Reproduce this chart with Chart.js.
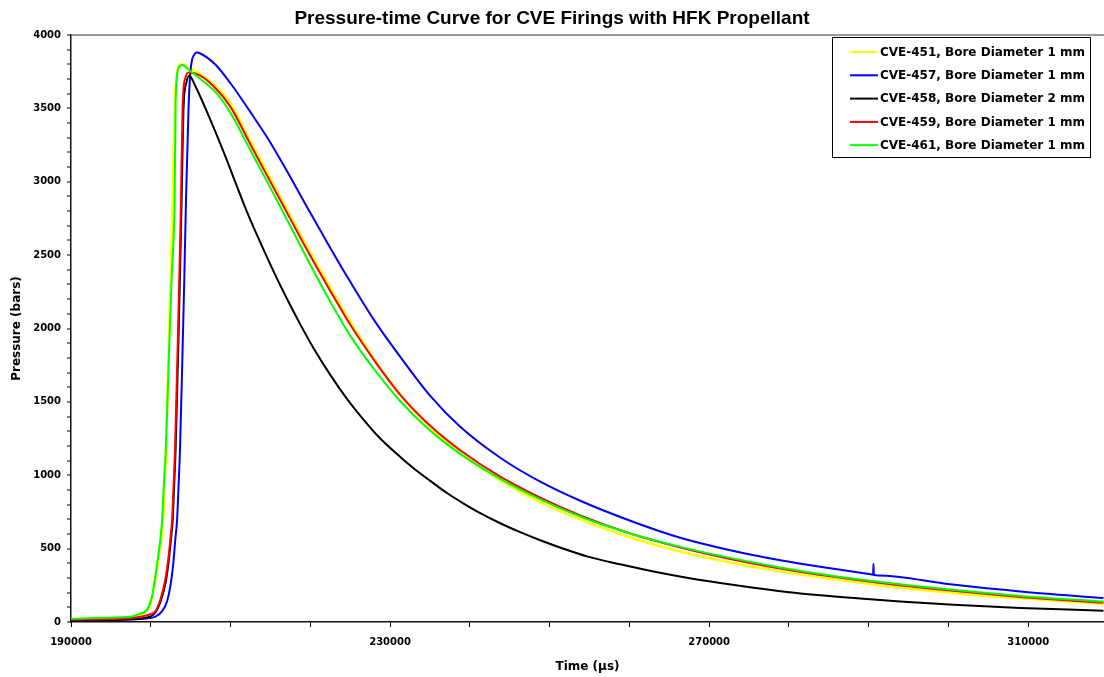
<!DOCTYPE html>
<html>
<head>
<meta charset="utf-8">
<script src="https://cdn.jsdelivr.net/npm/chart.js@4.4.1/dist/chart.umd.min.js"></script>
<style>
html,body{margin:0;padding:0;background:#fff;}
#wrap{width:1104px;height:677px;position:relative;}
</style>
</head>
<body>
<div id="wrap"><canvas id="c" width="1104" height="677"></canvas></div>
<script>
// ---- data ----
const seriesNames = [
  "CVE-451, Bore Diameter 1 mm",
  "CVE-457, Bore Diameter 1 mm",
  "CVE-458, Bore Diameter 2 mm",
  "CVE-459, Bore Diameter 1 mm",
  "CVE-461, Bore Diameter 1 mm"
];
const seriesColors = ["#FFFF00", "#0000FF", "#000000", "#FF0000", "#00FF00"];

// CVE-451 (time in µs, pressure in bars)
const t451 = [190000,193673,197434,198687,199314,199940,200354,200780,201106,201319,201545,201733,201908,202234,202497,202736,202986,203287,203513,203701,204954,206208,208088,209969,212476,214983,217490,219998,222504,225011,228144,231278,235035,238796,243810,248824,253838,260106,266374,272641,278909,285176,291443,300218,309030,319434];
const p451 = [16,22,29,46,70,118,220,356,492,560,697,935,1174,1855,2365,2876,3512,3728,3789,3803,3772,3734,3653,3534,3278,3023,2767,2515,2277,2045,1780,1548,1326,1153,966,816,699,576,481,406,345,294,249,200,161,125];

// CVE-457
const t457 = [190000,196180,199940,200567,201407,202034,202447,202786,203074,203300,203488,203663,203989,204215,204415,204741,204954,205167,205393,205706,206208,208088,209969,212476,214983,217490,219998,222504,225011,228144,231278,235035,238796,243810,248824,253838,260106,266374,272641,278909,285176,290000,290560,290600,290640,291200,300218,309030,319434];
const p457 = [9,16,27,36,72,140,242,379,560,697,935,1174,1855,2365,2876,3512,3739,3830,3861,3880,3874,3799,3673,3476,3268,3033,2788,2549,2318,2045,1807,1541,1330,1119,956,826,690,574,489,421,366,327,322,397,322,317,257,208,163];

// CVE-458
const t458 = [190000,196180,199314,200567,201256,201883,202297,202522,202748,202936,203112,203438,203663,203864,204114,204453,204829,205581,207048,209129,211222,212062,213479,214983,216237,217490,218744,220411,222504,224597,226640,228771,231278,232945,235035,237129,239172,241303,243810,246317,248824,251745,254678,258852,263027,267214,271388,275562,279749,283923,288937,293950,300631,309030,319434];
const p458 = [9,16,29,63,145,274,438,560,697,935,1174,1855,2365,2876,3512,3673,3723,3653,3476,3203,2910,2795,2617,2437,2294,2158,2028,1865,1684,1521,1381,1250,1125,1048,962,879,809,742,673,612,557,499,447,393,344,302,266,234,205,182,160,140,118,95,77];

// CVE-459
const t459 = [190000,196180,198687,199940,200567,201194,201821,202234,202447,202673,202861,203036,203362,203588,203789,203989,204328,204791,206208,208088,209969,212476,214983,217490,219998,222504,225011,228144,231278,235035,238796,243810,248824,253838,260106,266374,272641,278909,285176,291443,300218,309030,319434];
const p459 = [16,22,36,53,72,152,288,447,560,697,935,1174,1855,2365,2876,3512,3707,3745,3724,3639,3512,3256,3001,2747,2495,2256,2025,1773,1548,1337,1170,990,847,726,603,508,430,365,311,266,214,171,131];

// CVE-461
const t461 = [190000,193673,197434,198687,199527,200153,200567,200981,201194,201419,201670,201883,202297,202635,202986,203112,203237,203513,203914,204954,206208,208088,209969,212476,214983,217490,219998,222504,225011,228144,231278,235035,238796,243810,248824,253838,260106,266374,272641,278909,285176,291443,300218,309030,319434];
const p461 = [22,29,36,57,84,174,311,470,560,697,969,1174,1855,2365,2876,3512,3694,3779,3796,3755,3700,3612,3471,3216,2960,2699,2434,2182,1950,1712,1504,1303,1146,976,836,719,603,512,437,372,317,273,221,178,138];

const seriesT = [t451, t457, t458, t459, t461];
const seriesP = [p451, p457, p458, p459, p461];

const xMin = 190000, xMax = 319500, xStep = 10000, xLastTick = 310000, xLabelEvery = 4;
const yMin = 0, yMax = 4000, yStep = 100, yLabelEvery = 5;
const titleText = "Pressure-time Curve for CVE Firings with HFK Propellant";
const xTitle = "Time (\u00B5s)";
const yTitle = "Pressure (bars)";

// ---- chart ----
const FONT = "'DejaVu Sans', 'Liberation Sans', Arial, sans-serif";
const TITLE_FONT = "'Liberation Sans', Arial, 'DejaVu Sans', sans-serif";

const datasets = seriesNames.map((name, i) => ({
  label: name,
  data: seriesT[i].map((t, k) => ({x: t, y: seriesP[i][k]})),
  borderColor: seriesColors[i],
  backgroundColor: seriesColors[i],
  borderWidth: i === 0 ? 2.5 : 2,
  pointRadius: 0,
  fill: false,
  cubicInterpolationMode: 'monotone',
  order: seriesNames.length - i
}));

const boxLegend = {
  id: 'boxLegend',
  afterDraw(chart) {
    const ctx = chart.ctx;
    const x0 = 832, y0 = 37, w = 258, h = 120;
    ctx.save();
    ctx.fillStyle = '#fff';
    ctx.fillRect(x0, y0, w, h);
    ctx.strokeStyle = '#000';
    ctx.lineWidth = 1;
    ctx.strokeRect(x0 + 0.5, y0 + 0.5, w, h);
    ctx.font = "bold 12px " + FONT;
    ctx.textBaseline = 'middle';
    ctx.textAlign = 'left';
    chart.data.datasets.forEach((ds, i) => {
      const y = 52 + i * 23.3;
      ctx.strokeStyle = ds.borderColor;
      ctx.lineWidth = 2;
      ctx.beginPath();
      ctx.moveTo(850, y);
      ctx.lineTo(878, y);
      ctx.stroke();
      ctx.fillStyle = '#000';
      ctx.fillText(ds.label, 880, y + 0.5);
    });
    ctx.restore();
  }
};

new Chart(document.getElementById('c'), {
  type: 'line',
  data: { datasets },
  options: {
    responsive: false,
    animation: false,
    events: [],
    layout: { padding: { left: 0, right: 0, top: 0, bottom: 0 } },
    plugins: {
      legend: { display: false },
      tooltip: { enabled: false },
      title: {
        display: true,
        text: titleText,
        color: '#000',
        font: { family: TITLE_FONT, size: 19, weight: 'bold', lineHeight: 1.2 },
        padding: { top: 7.5, bottom: 4.7 }
      }
    },
    scales: {
      x: {
        type: 'linear',
        min: xMin, max: xMax,
        afterFit(scale) { scale.height = 55; },
        afterBuildTicks(scale) {
          const ticks = [];
          for (let v = xMin; v <= xLastTick; v += xStep) ticks.push({ value: v });
          scale.ticks = ticks;
        },
        ticks: {
          autoSkip: false,
          maxRotation: 0,
          padding: 9,
          color: '#000',
          font: { family: FONT, size: 10, weight: 'bold' },
          callback: (v) => {
            const k = Math.round((v - xMin) / xStep);
            return k % xLabelEvery === 0 ? String(Math.round(v)) : '';
          }
        },
        grid: { drawOnChartArea: false, drawTicks: true, tickLength: 5, tickColor: '#000', tickWidth: 1 },
        border: { display: true, color: '#111', width: 1.5 },
        title: {
          display: true, text: xTitle, color: '#000',
          font: { family: FONT, size: 12, weight: 'bold', lineHeight: 1.2 },
          padding: { top: 0, bottom: 3 }
        }
      },
      y: {
        type: 'linear',
        min: yMin, max: yMax,
        afterFit(scale) { scale.width = 71; },
        ticks: {
          stepSize: yStep,
          autoSkip: false,
          padding: 6,
          color: '#000',
          font: { family: FONT, size: 10, weight: 'bold' },
          callback: (v) => {
            const k = Math.round(v / yStep);
            return k % yLabelEvery === 0 ? String(Math.round(v)) : '';
          }
        },
        grid: {
          drawOnChartArea: true,
          drawTicks: true,
          tickLength: 4,
          tickColor: '#000',
          tickWidth: 1,
          color: (c) => (c.tick && Math.round(c.tick.value) === yMax ? '#999999' : 'rgba(0,0,0,0)'),
          lineWidth: 2
        },
        border: { display: true, color: '#111', width: 1.5 },
        title: {
          display: true, text: yTitle, color: '#000',
          font: { family: FONT, size: 12, weight: 'bold', lineHeight: 1.2 },
          padding: { top: 10, bottom: 0 }
        }
      }
    }
  },
  plugins: [boxLegend]
});
</script>
</body>
</html>
